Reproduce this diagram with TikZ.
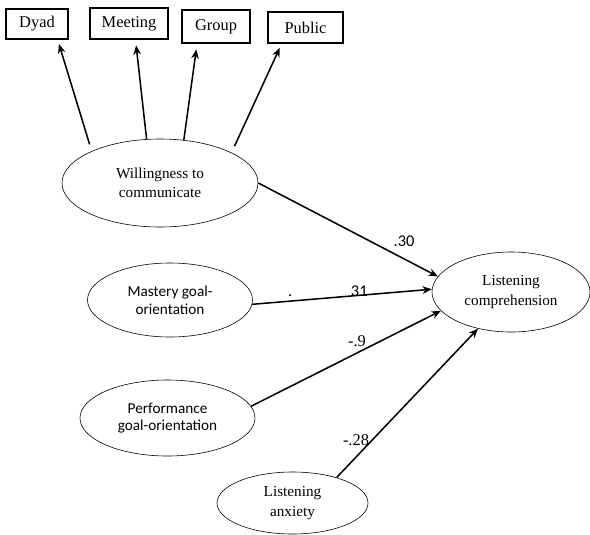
\documentclass[tikz,border=0pt]{standalone}
\usepackage{fontspec}
\setmainfont{Liberation Serif}
\newfontfamily\calfont{Carlito}
\usetikzlibrary{shapes.geometric,arrows.meta}

\tikzstyle{boxNode} = [rectangle, draw=black, line width=0.9pt, inner sep=0pt, text centered, font=\fontsize{14}{16}\selectfont]
\tikzstyle{ovalNode} = [ellipse, draw=black, line width=0.5pt, inner sep=0pt, align=center, font=\fontsize{13}{16.5}\selectfont]
\tikzstyle{calNode} = [ovalNode, font=\calfont\fontsize{13}{15}\selectfont]
\tikzstyle{arrow} = [line width=1.3pt,->,>={Stealth[length=8pt,width=6.5pt]}]
\tikzstyle{coef} = [inner sep=0pt, font=\fontsize{14}{16}\selectfont]

\begin{document}
\begin{tikzpicture}[x=0.03cm, y=-0.03cm]
    \useasboundingbox (0,0) rectangle (590,535);

    % indicators
    \node (dyad)[boxNode, minimum width=1.86cm, minimum height=0.9cm] at (37,24) {Dyad};
    \node (meeting)[boxNode, minimum width=2.34cm, minimum height=0.93cm] at (129,23.5) {Meeting};
    \node (group)[boxNode, minimum width=2.04cm, minimum height=0.99cm] at (216,26.5) {Group};
    \node (public)[boxNode, minimum width=2.25cm, minimum height=0.93cm] at (305.5,27.5) {Public};

    % latent variables
    \node (wtc)[ovalNode, minimum width=5.88cm, minimum height=2.64cm] at (160,183) {Willingness to\\communicate};
    \node (mastery)[calNode, minimum width=4.95cm, minimum height=2.22cm] at (170,300) {Mastery goal-\\orientation};
    \node (perform)[calNode, minimum width=5.25cm, minimum height=2.28cm] at (167.5,418) {Performance\\goal-orientation};
    \node (anxiety)[ovalNode, minimum width=4.53cm, minimum height=1.86cm] at (292.5,503) {Listening\\anxiety};
    \node (listen)[ovalNode, minimum width=4.74cm, minimum height=2.4cm] at (511,292) {Listening\\comprehension};

    \draw [arrow, shorten <=6pt, shorten >=4pt] (wtc.155.8) -- (dyad.-37.6);
    \draw [arrow, shorten >=5pt] (wtc.107.8) -- (meeting.-68);
    \draw [arrow, shorten >=5pt] (wtc.61.7) -- (group.-138.5);
    \draw [arrow, shorten <=6pt, shorten >=4pt] (wtc.23.4) -- (public.-146);

    \draw [arrow] (wtc.east) -- (listen.168);
    \draw [arrow] (mastery.-3) -- (listen.178);
    \draw [arrow] (perform.8) -- (listen.195);
    \draw [arrow] (anxiety.30) -- (listen.228);

    % coefficients
    \node (c1)[coef, font=\calfont\fontsize{14}{16}\selectfont] at (404,241) {.30};
    \node (c2)[coef, font=\calfont\fontsize{14}{16}\selectfont, anchor=base west] at (288,296) {.\hspace{50pt}31};
    \node (c3)[coef] at (357,341) {-.9};
    \node (c4)[coef] at (356,440) {-.28};

\end{tikzpicture}
\end{document}
